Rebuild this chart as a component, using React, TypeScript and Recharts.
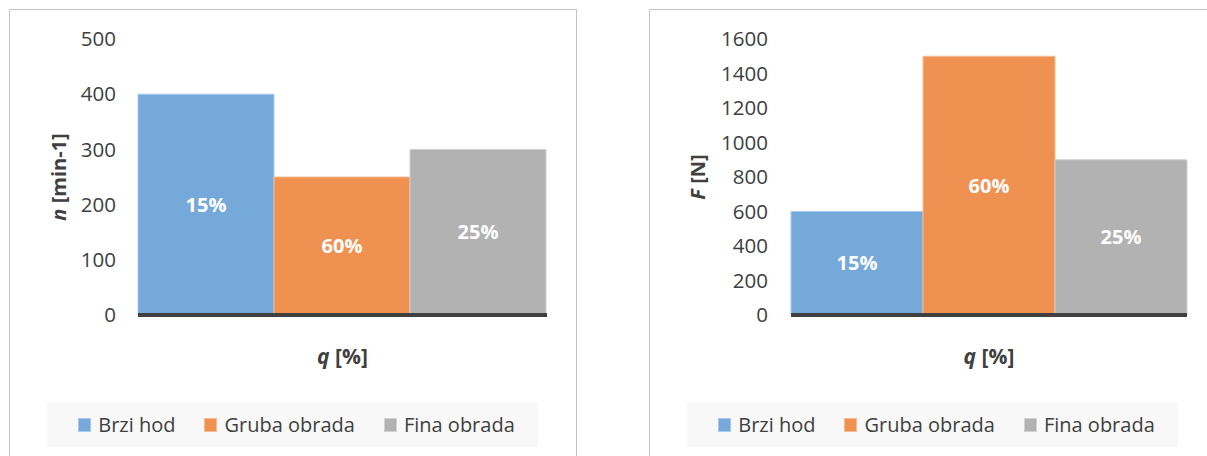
import { BarChart, Bar, XAxis, YAxis, LabelList, Legend } from "recharts";

const categories = ["q"];
const seriesNames = ["Brzi hod", "Gruba obrada", "Fina obrada"];
const seriesKeys = ["brzi", "gruba", "fina"];
const shareLabels = ["15%", "60%", "25%"];

const speedValues = [400, 250, 300];
const speedTicks = [0, 100, 200, 300, 400, 500];

const forceValues = [600, 1500, 900];
const forceTicks = [0, 200, 400, 600, 800, 1000, 1200, 1400, 1600];

const colors = ["#75a9da", "#ef9150", "#b2b2b2"];
const edges = ["#a8caea", "#f6bb93", "#d2d2d2"];
const textColor = "#404040";

function buildRows(values: number[]) {
  return categories.map((cat) => {
    const row: Record<string, string | number> = { cat };
    seriesKeys.forEach((k, i) => (row[k] = values[i]));
    return row;
  });
}

function LegendBox() {
  return (
    <div
      style={{
        width: 491,
        height: 45,
        background: "#f8f8f8",
        display: "flex",
        alignItems: "center",
        justifyContent: "center",
        gap: 29,
        paddingLeft: 8,
        boxSizing: "border-box",
        fontSize: 20,
        color: textColor,
      }}
    >
      {seriesNames.map((name, i) => (
        <div key={name} style={{ display: "flex", alignItems: "center", gap: 7 }}>
          <span
            style={{
              width: 11,
              height: 12,
              background: colors[i],
              border: `1px solid ${edges[i]}`,
              display: "inline-block",
            }}
          />
          <span>{name}</span>
        </div>
      ))}
    </div>
  );
}

interface PanelProps {
  values: number[];
  ticks: number[];
  symbol: string;
  unit: string;
  width: number;
  marginLeft: number;
  marginRight: number;
  tickGap: number;
  labelDx: number;
  legendLeft: number;
}

function Panel({ values, ticks, symbol, unit, width, marginLeft, marginRight, tickGap, labelDx, legendLeft }: PanelProps) {
  const rows = buildRows(values);
  return (
    <BarChart
      width={width}
      height={456}
      data={rows}
      margin={{ top: 39, right: marginRight, left: marginLeft, bottom: 111 }}
      barCategoryGap={0}
      barGap={0}
    >
      <XAxis
        dataKey="cat"
        tick={false}
        tickLine={false}
        height={30}
        axisLine={{ stroke: textColor, strokeWidth: 4 }}
        label={{
          content: (p: any) => {
            const { x, y, width: w } = p.viewBox;
            return (
              <text x={x + w / 2} y={y + 41} textAnchor="middle" dominantBaseline="central" fontSize={21} fontWeight="bold" fill={textColor}>
                <tspan fontStyle="italic">q</tspan>
                {" [%]"}
              </text>
            );
          },
        }}
      />
      <YAxis
        domain={[0, ticks[ticks.length - 1]]}
        ticks={ticks}
        width={100}
        axisLine={false}
        tickLine={false}
        tickSize={0}
        tickMargin={tickGap}
        tick={{ fill: textColor, fontSize: 20.5 }}
        label={{
          content: (p: any) => {
            const { x, y, height } = p.viewBox;
            const cx = x + labelDx;
            const cy = y + height / 2;
            return (
              <text
                x={cx}
                y={cy}
                transform={`rotate(-90 ${cx} ${cy})`}
                textAnchor="middle"
                dominantBaseline="central"
                fontSize={20}
                fontWeight="bold"
                fill={textColor}
              >
                <tspan fontStyle="italic">{symbol}</tspan>
                {` [${unit}]`}
              </text>
            );
          },
        }}
      />
      {seriesKeys.map((k, i) => (
        <Bar key={k} dataKey={k} name={seriesNames[i]} fill={colors[i]} stroke={edges[i]} strokeWidth={1} isAnimationActive={false}>
          <LabelList
            dataKey={k}
            position="center"
            formatter={() => shareLabels[i]}
            fill="#ffffff"
            fontSize={20}
            fontWeight="bold"
          />
        </Bar>
      ))}
      <Legend
        layout="horizontal"
        verticalAlign="middle"
        align="center"
        wrapperStyle={{ left: legendLeft, top: 402, width: 491, height: 45 }}
        content={() => <LegendBox />}
      />
    </BarChart>
  );
}

export default function App() {
  return (
    <div
      style={{
        position: "absolute",
        left: 0,
        top: 0,
        width: 1207,
        height: 456,
        overflow: "hidden",
        background: "#ffffff",
        fontFamily: "'Open Sans', sans-serif",
      }}
    >
      <div style={{ position: "absolute", left: 9, top: 9, width: 566, height: 470, border: "1px solid #c4c4c4" }} />
      <div style={{ position: "absolute", left: 649, top: 9, width: 600, height: 470, border: "1px solid #c4c4c4" }} />
      <div style={{ position: "absolute", left: 0, top: 0 }}>
        <Panel
          values={speedValues}
          ticks={speedTicks}
          symbol="n"
          unit="min-1"
          width={580}
          marginLeft={38}
          marginRight={33}
          tickGap={22}
          labelDx={20}
          legendLeft={47}
        />
      </div>
      <div style={{ position: "absolute", left: 600, top: 0 }}>
        <Panel
          values={forceValues}
          ticks={forceTicks}
          symbol="F"
          unit="N"
          width={607}
          marginLeft={91}
          marginRight={20}
          tickGap={23}
          labelDx={6}
          legendLeft={87}
        />
      </div>
    </div>
  );
}
